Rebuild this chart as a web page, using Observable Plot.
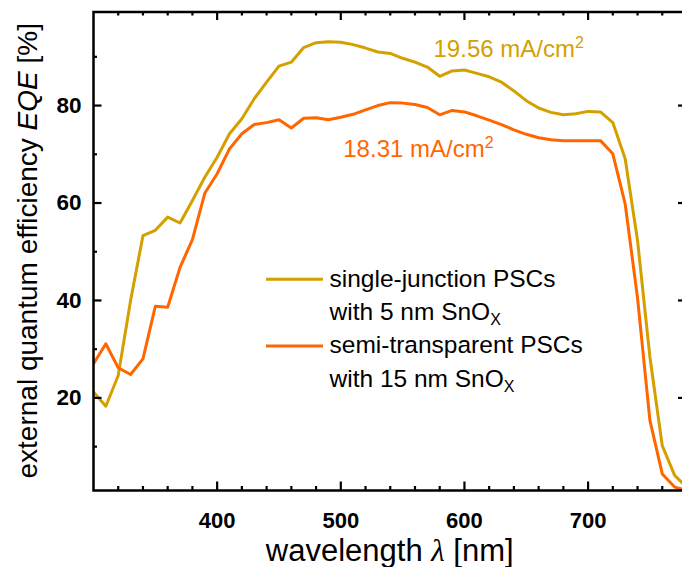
<!DOCTYPE html>
<html><head><meta charset="utf-8">
<script src="https://cdn.jsdelivr.net/npm/d3@7"></script>
<script src="https://cdn.jsdelivr.net/npm/@observablehq/plot@0.6"></script>
<style>
html,body{margin:0;padding:0;background:#fff;overflow:hidden}
#chart{width:682px;height:567px;overflow:hidden;position:relative}
</style></head><body><div id="chart"></div>
<script>
// ---- data ----
const wavelength = [300,310,320,330,340,350,360,370,380,390,400,410,420,430,440,450,460,470,480,490,500,510,520,530,540,550,560,570,580,590,600,610,620,630,640,650,660,670,680,690,700,710,720,730,740,750,760,770,780];
const eqeSingle = [21.2,18.3,24.6,40.0,53.3,54.4,57.1,55.9,60.5,65.3,69.4,74.2,77.3,81.4,84.8,88.1,88.9,91.9,92.9,93.1,93.0,92.5,91.8,91.0,90.7,89.7,88.9,87.9,86.0,87.1,87.3,86.6,85.9,84.8,83.0,81.0,79.5,78.6,78.1,78.3,78.8,78.7,76.5,69.1,52.3,28.4,10.2,4.1,1.6];
const eqeSemi = [27.0,31.1,26.2,24.8,28.0,38.8,38.6,46.8,52.5,62.0,66.0,71.1,74.2,76.1,76.5,77.1,75.4,77.4,77.5,77.1,77.6,78.2,79.1,80.0,80.6,80.5,80.2,79.6,78.1,79.0,78.7,77.9,77.0,76.1,75.0,74.1,73.4,73.0,72.8,72.8,72.8,72.8,70.1,59.8,40.5,15.4,4.4,1.7,1.0];
const seriesNames = ["single-junction PSCs", "semi-transparent PSCs"];
const seriesLayer = ["with 5 nm SnO", "with 15 nm SnO"];
const seriesColors = ["#D4A000", "#FF6600"];
const jscLabels = ["19.56 mA/cm", "18.31 mA/cm"];
const jscX = [575, 502];
const jscY = [91.5, 71.0];
const xTicksMajor = [400, 500, 600, 700];
const xTicksMinor = [320, 340, 360, 380, 420, 440, 460, 480, 520, 540, 560, 580, 620, 640, 660, 680, 720, 740, 760];
const yTicksMajor = [20, 40, 60, 80];
const yTicksMinor = [10, 30, 50, 70, 90];
const xDomain = [300, 780];
const yDomain = [1, 99.2];

// ---- layout ----
const W = 682, H = 567;
const mL = 93, mR = -4.5, mT = 11.5, mB = 77;
const innerW = W - mL - mR, innerH = H - mT - mB;
const FONT = "Liberation Sans, Arial, Helvetica, sans-serif";
const majLen = 8.5, minLen = 4;

const rows = [];
wavelength.forEach((w, i) => {
  rows.push({w, v: eqeSingle[i], s: seriesNames[0]});
  rows.push({w, v: eqeSemi[i], s: seriesNames[1]});
});
const ann = jscLabels.map((t, i) => ({t, x: jscX[i], y: jscY[i], c: seriesColors[i]}));
const tickStyle = {stroke: "black", strokeWidth: 2.2};

const chart = Plot.plot({
  width: W, height: H,
  marginLeft: mL, marginRight: mR, marginTop: mT, marginBottom: mB,
  style: {fontFamily: FONT, background: "white", color: "black"},
  x: {domain: xDomain, axis: null},
  y: {domain: yDomain, axis: null},
  color: {domain: seriesNames, range: seriesColors},
  marks: [
    Plot.line(rows, {x: "w", y: "v", z: "s", stroke: "s", strokeWidth: 3, clip: true, strokeLinejoin: "round"}),
    Plot.text(ann, {x: "x", y: "y", text: "t", fill: "c", fontSize: 24, textAnchor: "start", className: "jsc"}),
    // inward ticks, bottom and top
    Plot.tickX(xTicksMajor, {x: d => d, insetTop: innerH - majLen, ...tickStyle}),
    Plot.tickX(xTicksMinor, {x: d => d, insetTop: innerH - minLen, ...tickStyle}),
    Plot.tickX(xTicksMajor, {x: d => d, insetBottom: innerH - majLen, ...tickStyle}),
    Plot.tickX(xTicksMinor, {x: d => d, insetBottom: innerH - minLen, ...tickStyle}),
    // inward ticks, left and right
    Plot.tickY(yTicksMajor, {y: d => d, insetRight: innerW - majLen, ...tickStyle}),
    Plot.tickY(yTicksMinor, {y: d => d, insetRight: innerW - minLen, ...tickStyle}),
    Plot.tickY(yTicksMajor, {y: d => d, insetLeft: innerW - majLen, ...tickStyle}),
    Plot.tickY(yTicksMinor, {y: d => d, insetLeft: innerW - minLen, ...tickStyle}),
    Plot.axisX({ticks: xTicksMajor, tickSize: 0, tickPadding: 22, fontSize: 22, fontWeight: "bold", label: null, tickFormat: d => String(d)}),
    Plot.axisY({ticks: yTicksMajor, tickSize: 0, tickPadding: 12, fontSize: 22.5, fontWeight: "bold", label: null, tickFormat: d => String(d)}),
    Plot.frame({stroke: "black", strokeWidth: 2.5})
  ]
});
document.getElementById("chart").appendChild(chart);

// superscript 2 on the current-density labels
d3.select(chart).selectAll("g.jsc text").each(function() {
  d3.select(this).append("tspan").attr("font-size", 16).attr("dy", -9).text("2");
});

// ---- titles and legend ----
const svg = d3.select(chart);
const g = svg.append("g").attr("font-family", FONT).attr("fill", "black").attr("text-anchor", "start");
const xt = g.append("text").attr("x", mL + innerW / 2).attr("y", 560.5).attr("text-anchor", "middle").attr("font-size", 31);
xt.append("tspan").text("wavelength ");
xt.append("tspan").attr("font-style", "italic").attr("font-family", "Liberation Serif, Times New Roman, serif").text("λ");
xt.append("tspan").text(" [nm]");
const yt = g.append("text").attr("transform", `translate(37,${mT + innerH / 2}) rotate(-90)`).attr("text-anchor", "middle").attr("font-size", 28);
yt.append("tspan").text("external quantum efficiency ");
yt.append("tspan").attr("font-style", "italic").text("EQE");
yt.append("tspan").text(" [%]");

const legY = [279.3, 346];
seriesNames.forEach((name, i) => {
  g.append("line").attr("x1", 266).attr("x2", 323).attr("y1", legY[i]).attr("y2", legY[i])
    .attr("stroke", seriesColors[i]).attr("stroke-width", 3);
  g.append("text").attr("x", 329.5).attr("y", legY[i] + 7.4).attr("font-size", 24.5).text(name);
  const t2 = g.append("text").attr("x", 329.5).attr("y", legY[i] + 40.7).attr("font-size", 24.5);
  t2.append("tspan").text(seriesLayer[i]);
  t2.append("tspan").attr("font-size", 16).attr("dy", 5).text("X");
});
</script></body></html>
